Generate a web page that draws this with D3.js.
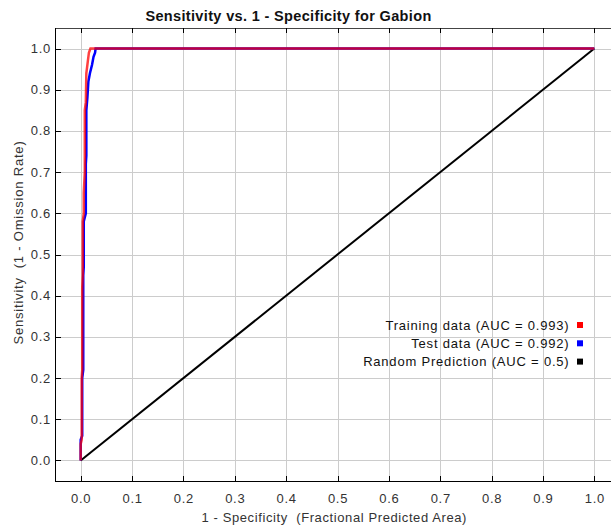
<!DOCTYPE html>
<html lang="en">
<head>
    <meta charset="UTF-8">
    <title>ROC Gabion</title>
    <script src="https://d3js.org/d3.v7.min.js"></script>
    <style>
        body { margin: 0; background: #fff; }
        text { font-family: "Liberation Sans", Arial, sans-serif; white-space: pre; }
    </style>
</head>
<body>
    <div id="my_dataviz"></div>

    <script>
        // ROC points as [1 - specificity, sensitivity]
        var trainingData = [[0,0],[0,0.04],[0.002,0.05],[0.002,0.2],[0.003,0.22],[0.003,0.42],[0.004,0.45],
            [0.004,0.58],[0.006,0.6],[0.006,0.65],[0.008,0.7],[0.008,0.85],[0.010,0.87],[0.011,0.94],
            [0.014,0.97],[0.016,0.99],[0.019,1.0],[1,1]];
        var testData = [[0,0],[0,0.05],[0.003,0.06],[0.003,0.2],[0.005,0.22],[0.005,0.45],[0.006,0.47],
            [0.006,0.58],[0.010,0.6],[0.010,0.72],[0.011,0.74],[0.011,0.85],[0.013,0.88],[0.015,0.92],
            [0.018,0.94],[0.022,0.96],[0.025,0.98],[0.028,0.99],[0.029,1.0],[1,1]];
        var randomData = [[0,0],[1,1]];

        var ticks = [0,0.1,0.2,0.3,0.4,0.5,0.6,0.7,0.8,0.9,1.0];
        var legendLabels = ["Training data (AUC = 0.993)", "Test data (AUC = 0.992)", "Random Prediction (AUC = 0.5)"];
        var legendColors = ["#ff0000", "#0000ff", "#000000"];

        var W = 611, H = 526;
        var mLeft = 55, mTop = 28, mBottom = 481, mRight = 620;

        var svg = d3.select("#my_dataviz")
            .append("svg")
            .attr("width", W)
            .attr("height", H);

        var x = d3.scaleLinear().domain([-0.05, 1.05]).range([mLeft, mRight]);
        var y = d3.scaleLinear().domain([-0.05, 1.05]).range([mBottom, mTop]);

        // grid
        svg.append("g").selectAll("line")
            .data(ticks).enter().append("line")
            .attr("x1", function(d) { return Math.round(x(d)) + 0.5; })
            .attr("x2", function(d) { return Math.round(x(d)) + 0.5; })
            .attr("y1", mTop).attr("y2", mBottom)
            .attr("stroke", "#cccccc").attr("stroke-width", 1);
        svg.append("g").selectAll("line")
            .data(ticks).enter().append("line")
            .attr("x1", mLeft).attr("x2", mRight)
            .attr("y1", function(d) { return Math.round(y(d)) + 0.5; })
            .attr("y2", function(d) { return Math.round(y(d)) + 0.5; })
            .attr("stroke", "#cccccc").attr("stroke-width", 1);

        // frame
        svg.append("line").attr("x1", mLeft).attr("x2", mRight).attr("y1", mTop + 0.5).attr("y2", mTop + 0.5)
            .attr("stroke", "#444").attr("stroke-width", 1);
        svg.append("line").attr("x1", mLeft + 0.5).attr("x2", mLeft + 0.5).attr("y1", mTop).attr("y2", mBottom + 1)
            .attr("stroke", "#000").attr("stroke-width", 1);
        svg.append("line").attr("x1", mLeft).attr("x2", mRight).attr("y1", mBottom + 0.5).attr("y2", mBottom + 0.5)
            .attr("stroke", "#000").attr("stroke-width", 1);

        // ticks
        var tk = svg.append("g").attr("stroke", "#000").attr("stroke-width", 1);
        ticks.forEach(function(d) {
            var px = Math.round(x(d)) + 0.5, py = Math.round(y(d)) + 0.5;
            tk.append("line").attr("x1", px).attr("x2", px).attr("y1", mTop).attr("y2", mTop + 5);
            tk.append("line").attr("x1", px).attr("x2", px).attr("y1", mBottom - 5).attr("y2", mBottom);
            tk.append("line").attr("x1", mLeft).attr("x2", mLeft + 6).attr("y1", py).attr("y2", py);
        });

        // tick labels
        svg.append("g").selectAll("text")
            .data(ticks).enter().append("text")
            .attr("x", function(d) { return x(d) + 0.5; })
            .attr("y", 503)
            .attr("text-anchor", "middle")
            .attr("font-size", 13).attr("letter-spacing", 0.7).attr("fill", "#333")
            .text(function(d) { return d.toFixed(1); });
        svg.append("g").selectAll("text")
            .data(ticks).enter().append("text")
            .attr("x", 51)
            .attr("y", function(d) { return y(d) + 4.5; })
            .attr("text-anchor", "end")
            .attr("font-size", 13).attr("letter-spacing", 0.7).attr("fill", "#333")
            .text(function(d) { return d.toFixed(1); });

        // curves
        var line = d3.line()
            .x(function(d) { return x(d[0]); })
            .y(function(d) { return y(d[1]); });

        svg.append("path").datum(randomData).attr("d", line)
            .attr("fill", "none").attr("stroke", "#000").attr("stroke-width", 2);
        svg.append("path").datum(testData).attr("d", line)
            .attr("fill", "none").attr("stroke", "#0000ff").attr("stroke-width", 2.5);
        svg.append("path").datum(trainingData).attr("d", line)
            .attr("fill", "none").attr("stroke", "#ff0000").attr("stroke-width", 2.5)
            .attr("stroke-opacity", 0.75);

        // legend
        var lg = svg.append("g");
        legendLabels.forEach(function(label, i) {
            var cy = 325 + i * 18.3;
            lg.append("text").attr("x", 569.5).attr("y", cy + 4.5)
                .attr("text-anchor", "end").attr("font-size", 13).attr("letter-spacing", 0.8)
                .attr("fill", "#111")
                .text(label);
            lg.append("rect").attr("x", 577).attr("y", cy - 3).attr("width", 6).attr("height", 6)
                .attr("fill", legendColors[i]);
        });

        // titles
        svg.append("text").attr("x", 288.5).attr("y", 21)
            .attr("text-anchor", "middle").attr("font-size", 14.5).attr("font-weight", "bold")
            .attr("letter-spacing", 0.35).attr("fill", "#111")
            .text("Sensitivity vs. 1 - Specificity for Gabion");
        svg.append("text").attr("x", 201.5).attr("y", 522)
            .attr("text-anchor", "start").attr("font-size", 13).attr("letter-spacing", 0.6).attr("fill", "#333")
            .text("1 - Specificity  (Fractional Predicted Area)");
        svg.append("text")
            .attr("transform", "translate(22.5,242.5) rotate(-90)")
            .attr("text-anchor", "middle").attr("font-size", 13).attr("letter-spacing", 0.8).attr("fill", "#333")
            .text("Sensitivity  (1 - Omission Rate)");
    </script>
</body>
</html>
